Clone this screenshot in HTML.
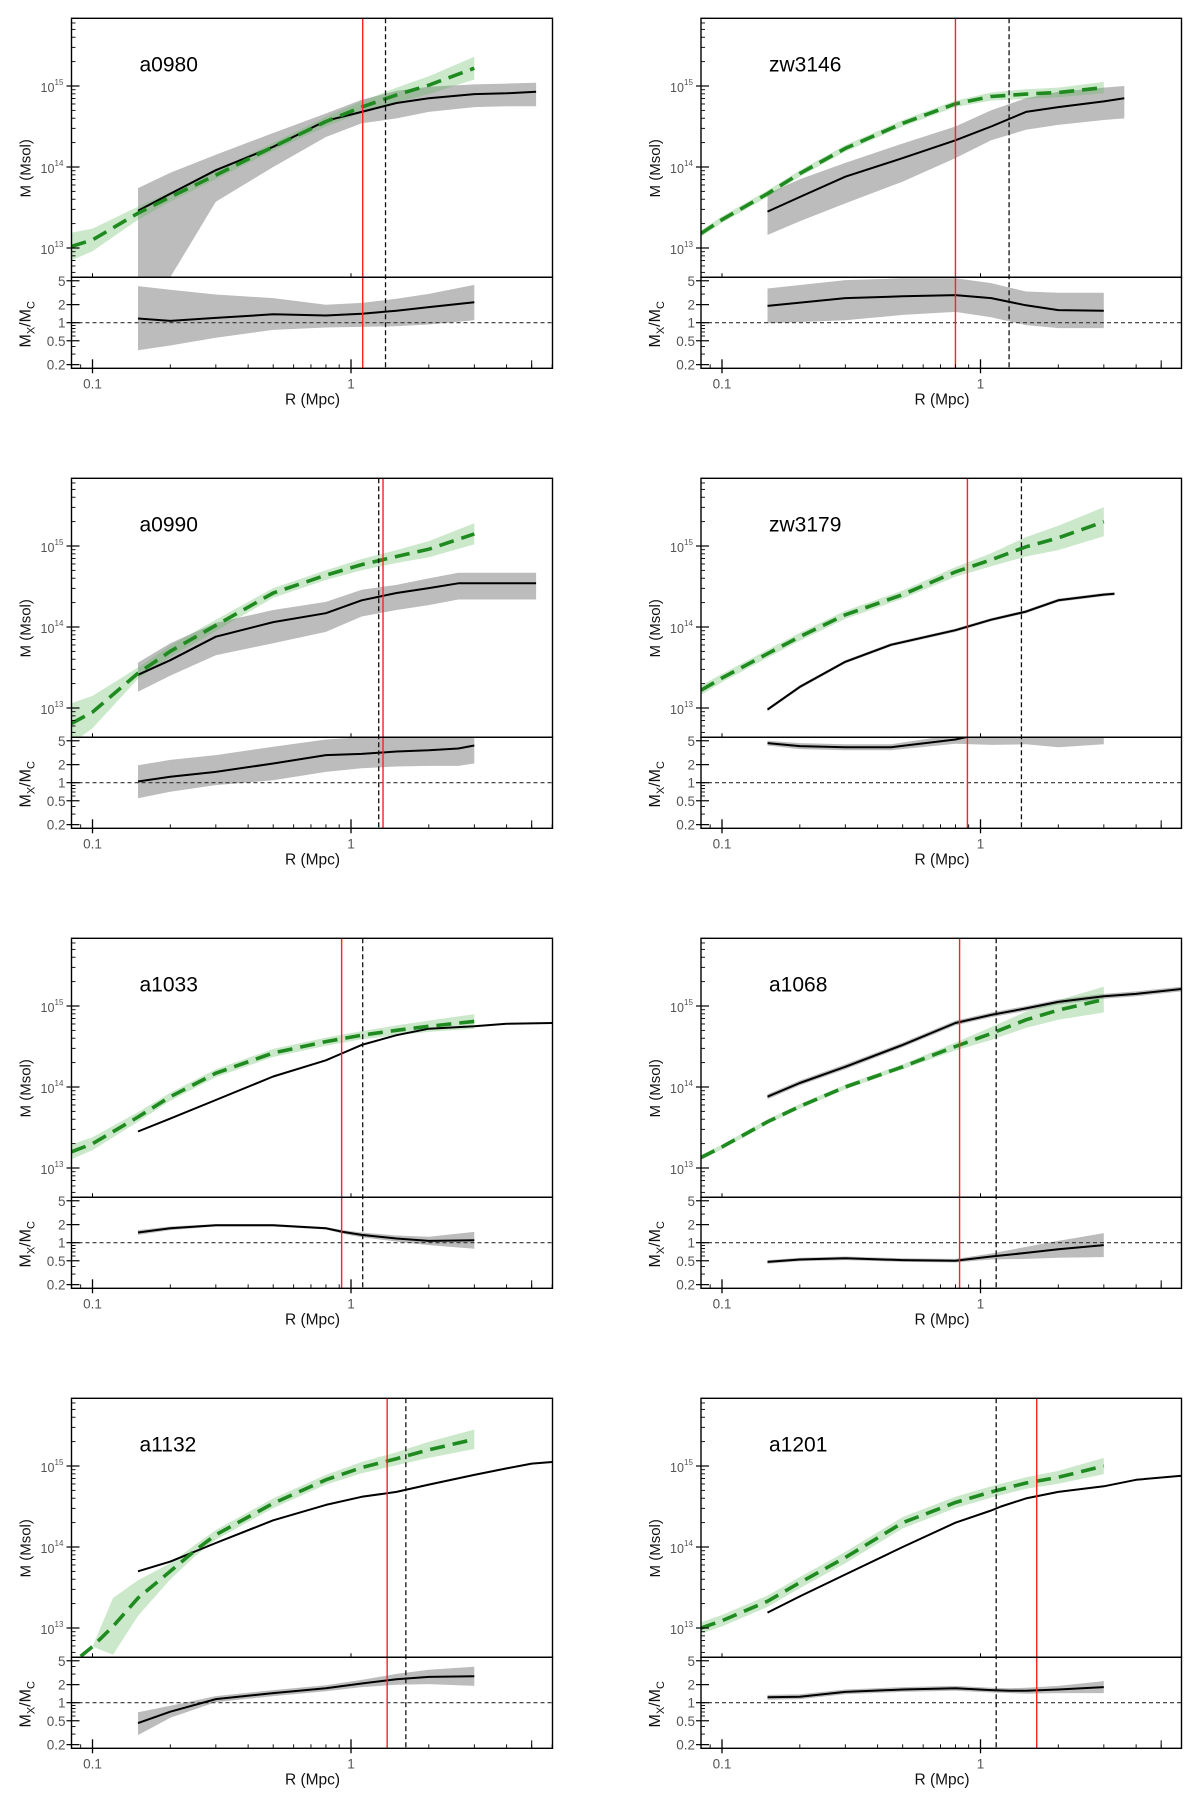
<!DOCTYPE html>
<html><head><meta charset="utf-8"><style>
html,body{margin:0;padding:0;background:#fff;}
svg{display:block;font-family:"Liberation Sans",sans-serif;}
</style></head><body>
<svg id="fig" width="1200" height="1809" viewBox="0 0 1200 1809" xmlns="http://www.w3.org/2000/svg"></svg>
<script>
// ---- data (log10 M in Msol; ratio as log10 Mx/Mc) ----
const names = ["a0980","zw3146","a0990","zw3179","a1033","a1068","a1132","a1201"];
const gR11 = [0.083,0.1,0.15,0.2,0.3,0.5,0.8,1.1,1.5,2,3];
// a0980
const p1_bR=[0.15,0.2,0.3,0.5,0.8,1.1,1.5,2,3,4,5.2];
const p1_bM=[13.46,13.67,13.96,14.25,14.57,14.68,14.79,14.85,14.90,14.91,14.93];
const p1_bHi=[13.74,13.93,14.15,14.42,14.66,14.83,14.94,14.99,15.02,15.03,15.04];
const p1_bLo=[12.0,12.64,13.57,14.0,14.37,14.54,14.6,14.68,14.74,14.75,14.75];
const p1_gR=gR11;
const p1_gM=[13.02,13.1,13.43,13.63,13.90,14.25,14.56,14.74,14.89,15.01,15.22];
const p1_gE=[0.17,0.14,0.08,0.06,0.05,0.05,0.06,0.07,0.09,0.11,0.14];
const p1_rR=[0.15,0.2,0.3,0.5,0.8,1.1,1.5,2,3];
const p1_rV=[0.07,0.03,0.08,0.14,0.12,0.15,0.2,0.26,0.34];
const p1_rHi=[0.61,0.55,0.47,0.41,0.30,0.33,0.40,0.48,0.63];
const p1_rLo=[-0.46,-0.38,-0.25,-0.12,-0.08,-0.07,-0.06,-0.03,0.04];
// zw3146
const p2_bR=[0.15,0.2,0.3,0.5,0.8,1.1,1.5,2,3,3.6];
const p2_bM=[13.45,13.63,13.88,14.11,14.33,14.5,14.68,14.74,14.81,14.85];
const p2_bHi=[13.67,13.85,14.05,14.29,14.5,14.7,14.85,14.93,14.98,15.0];
const p2_bLo=[13.16,13.33,13.55,13.82,14.11,14.33,14.46,14.52,14.58,14.6];
const p2_gR=gR11;
const p2_gM=[13.18,13.35,13.67,13.92,14.23,14.54,14.78,14.87,14.9,14.92,14.98];
const p2_gE=[0.04,0.04,0.04,0.04,0.04,0.04,0.04,0.05,0.06,0.06,0.07];
const p2_rR=[0.15,0.3,0.5,0.8,1.1,1.5,2,3];
const p2_rV=[0.28,0.41,0.44,0.46,0.41,0.29,0.21,0.2];
const p2_rHi=[0.57,0.71,0.74,0.74,0.66,0.52,0.5,0.5];
const p2_rLo=[-0.01,0.04,0.13,0.18,0.09,-0.04,-0.09,-0.09];
// a0990
const p3_bR=[0.15,0.2,0.3,0.5,0.8,1.1,1.5,2,2.6,5.2];
const p3_bM=[13.41,13.59,13.88,14.06,14.17,14.33,14.42,14.48,14.54,14.54];
const p3_bHi=[13.56,13.8,14.05,14.21,14.31,14.46,14.52,14.6,14.67,14.67];
const p3_bLo=[13.2,13.4,13.65,13.8,13.94,14.13,14.21,14.27,14.34,14.34];
const p3_gR=gR11;
const p3_gM=[12.81,12.95,13.43,13.7,14.02,14.42,14.64,14.77,14.87,14.96,15.15];
const p3_gE=[0.25,0.2,0.07,0.07,0.07,0.06,0.06,0.07,0.08,0.1,0.13];
const p3_rR=[0.15,0.2,0.3,0.5,0.8,1.1,1.5,2,2.6,3];
const p3_rV=[0.02,0.1,0.18,0.32,0.46,0.48,0.52,0.54,0.57,0.62];
const p3_rHi=[0.29,0.38,0.46,0.6,0.72,0.76,0.76,0.76,0.76,0.76];
const p3_rLo=[-0.26,-0.15,-0.04,0.04,0.18,0.24,0.27,0.28,0.28,0.32];
// zw3179
const p4_bR=[0.15,0.2,0.3,0.45,0.8,1.1,1.5,2,3,3.3];
const p4_bM=[12.98,13.26,13.57,13.78,13.96,14.09,14.19,14.33,14.4,14.41];
const p4_bHi=[13.0,13.28,13.59,13.8,13.98,14.11,14.21,14.35,14.42,14.43];
const p4_bLo=[12.96,13.24,13.55,13.76,13.94,14.07,14.17,14.31,14.38,14.39];
const p4_gR=gR11;
const p4_gM=[13.22,13.37,13.67,13.88,14.15,14.4,14.68,14.83,14.99,15.1,15.3];
const p4_gE=[0.06,0.05,0.05,0.05,0.05,0.05,0.06,0.08,0.12,0.15,0.18];
const p4_rR=[0.15,0.2,0.3,0.45,0.8,1.1,1.5,2,3];
const p4_rV=[0.66,0.61,0.59,0.59,0.72,0.85,0.9,0.85,0.9];
const p4_rHi=[0.7,0.66,0.64,0.64,0.8,1.0,1.0,1.0,1.0];
const p4_rLo=[0.62,0.56,0.54,0.54,0.65,0.63,0.64,0.59,0.64];
// a1033
const p5_bR=[0.15,0.2,0.3,0.5,0.8,0.93,1.1,1.5,2,3,4,6];
const p5_bM=[13.45,13.61,13.84,14.13,14.33,14.42,14.52,14.64,14.72,14.75,14.78,14.79];
const p5_bHi=null, p5_bLo=null;
const p5_gR=gR11;
const p5_gM=[13.2,13.3,13.63,13.88,14.17,14.42,14.56,14.64,14.7,14.75,14.81];
const p5_gE=[0.09,0.08,0.06,0.05,0.05,0.05,0.05,0.05,0.06,0.07,0.09];
const p5_rR=[0.15,0.2,0.3,0.5,0.8,0.93,1.1,1.5,2,3];
const p5_rV=[0.17,0.24,0.29,0.29,0.24,0.18,0.13,0.07,0.03,0.04];
const p5_rHi=[0.21,0.27,0.31,0.31,0.26,0.21,0.17,0.12,0.1,0.18];
const p5_rLo=[0.13,0.21,0.27,0.27,0.22,0.15,0.09,0.02,-0.04,-0.1];
// a1068
const p6_bR=[0.15,0.2,0.3,0.5,0.8,1.1,1.5,2,3,4,6];
const p6_bM=[13.88,14.05,14.25,14.52,14.79,14.89,14.97,15.05,15.12,15.15,15.21];
const p6_bHi=[13.91,14.08,14.28,14.55,14.82,14.92,15.0,15.08,15.15,15.18,15.24];
const p6_bLo=[13.85,14.02,14.22,14.49,14.76,14.86,14.94,15.02,15.09,15.12,15.18];
const p6_gR=gR11;
const p6_gM=[13.13,13.26,13.57,13.76,14.0,14.25,14.5,14.66,14.83,14.95,15.08];
const p6_gE=[0.03,0.03,0.03,0.03,0.03,0.03,0.05,0.08,0.1,0.12,0.16];
const p6_rR=[0.15,0.2,0.3,0.5,0.8,1.1,1.5,2,3];
const p6_rV=[-0.32,-0.28,-0.26,-0.29,-0.3,-0.23,-0.17,-0.11,-0.04];
const p6_rHi=[-0.29,-0.25,-0.23,-0.26,-0.27,-0.18,-0.07,0.03,0.16];
const p6_rLo=[-0.35,-0.31,-0.29,-0.32,-0.33,-0.28,-0.27,-0.25,-0.24];
// a1132
const p7_bR=[0.15,0.2,0.3,0.5,0.8,1.1,1.5,2,3,4,5,6];
const p7_bM=[13.7,13.82,14.05,14.33,14.52,14.62,14.68,14.77,14.89,14.97,15.03,15.05];
const p7_bHi=null, p7_bLo=null;
const p7_gR=[0.09,0.1,0.12,0.15,0.2,0.25,0.3,0.5,0.8,1.1,1.5,2,3];
const p7_gM=[12.65,12.77,13.02,13.37,13.7,13.96,14.15,14.54,14.83,14.98,15.09,15.2,15.33];
const p7_gE=[0,0,0.35,0.22,0.1,0.07,0.06,0.06,0.06,0.07,0.08,0.1,0.12];
const p7_rR=[0.15,0.2,0.3,0.5,0.8,1.1,1.5,2,3];
const p7_rV=[-0.34,-0.15,0.06,0.16,0.24,0.32,0.39,0.43,0.44];
const p7_rHi=[-0.16,-0.05,0.11,0.21,0.29,0.38,0.48,0.55,0.6];
const p7_rLo=[-0.54,-0.25,0.01,0.11,0.19,0.26,0.3,0.31,0.28];
// a1201
const p8_bR=[0.15,0.2,0.3,0.5,0.8,1.1,1.2,1.5,2,3,4,6];
const p8_bM=[13.19,13.39,13.66,14.0,14.3,14.45,14.5,14.6,14.68,14.75,14.83,14.88];
const p8_bHi=null, p8_bLo=null;
const p8_gR=gR11;
const p8_gM=[13.0,13.09,13.33,13.56,13.87,14.3,14.55,14.68,14.79,14.86,15.0];
const p8_gE=[0.07,0.07,0.07,0.07,0.07,0.07,0.07,0.07,0.07,0.08,0.1];
const p8_rR=[0.15,0.2,0.3,0.5,0.8,1.1,1.3,1.5,2,3];
const p8_rV=[0.09,0.1,0.18,0.22,0.24,0.21,0.2,0.2,0.22,0.26];
const p8_rHi=[0.13,0.14,0.22,0.26,0.28,0.25,0.24,0.25,0.28,0.36];
const p8_rLo=[0.05,0.06,0.14,0.18,0.2,0.17,0.16,0.15,0.16,0.16];
const redR=[1.11,0.8,1.33,0.89,0.92,0.83,1.38,1.65];
const dashR=[1.36,1.29,1.28,1.44,1.11,1.15,1.63,1.15];
const yExp=[13,14,15];
const ratioTicks=[0.2,0.5,1,2,5];
const ratioLabels=["0.2","0.5","1","2","5"];
const xTicks=[0.1,1];
const xLabels=["0.1","1"];

const panels=[
 [p1_bR,p1_bM,p1_bHi,p1_bLo,p1_gR,p1_gM,p1_gE,p1_rR,p1_rV,p1_rHi,p1_rLo],
 [p2_bR,p2_bM,p2_bHi,p2_bLo,p2_gR,p2_gM,p2_gE,p2_rR,p2_rV,p2_rHi,p2_rLo],
 [p3_bR,p3_bM,p3_bHi,p3_bLo,p3_gR,p3_gM,p3_gE,p3_rR,p3_rV,p3_rHi,p3_rLo],
 [p4_bR,p4_bM,p4_bHi,p4_bLo,p4_gR,p4_gM,p4_gE,p4_rR,p4_rV,p4_rHi,p4_rLo],
 [p5_bR,p5_bM,p5_bHi,p5_bLo,p5_gR,p5_gM,p5_gE,p5_rR,p5_rV,p5_rHi,p5_rLo],
 [p6_bR,p6_bM,p6_bHi,p6_bLo,p6_gR,p6_gM,p6_gE,p6_rR,p6_rV,p6_rHi,p6_rLo],
 [p7_bR,p7_bM,p7_bHi,p7_bLo,p7_gR,p7_gM,p7_gE,p7_rR,p7_rV,p7_rHi,p7_rLo],
 [p8_bR,p8_bM,p8_bHi,p8_bLo,p8_gR,p8_gM,p8_gE,p8_rR,p8_rV,p8_rHi,p8_rLo]
];

const NS="http://www.w3.org/2000/svg";
const svg=document.getElementById('fig');
function mk(tag,attrs,parent){const e=document.createElementNS(NS,tag);for(const k in attrs)e.setAttribute(k,attrs[k]);(parent||svg).appendChild(e);return e;}
function pts(xs,ys,fx,fy){return xs.map((x,i)=>fx(x).toFixed(1)+","+fy(ys[i]).toFixed(1)).join(" ");}
function bandPts(xs,hi,lo,fx,fy){const a=xs.map((x,i)=>fx(x).toFixed(1)+","+fy(hi[i]).toFixed(1));const b=xs.map((x,i)=>fx(x).toFixed(1)+","+fy(lo[i]).toFixed(1)).reverse();return a.concat(b).join(" ");}

panels.forEach((P,k)=>{
  const [bR,bM,bHi,bLo,gR,gM,gE,rR,rV,rHi,rLo]=P;
  const col=k%2,row=Math.floor(k/2);
  const X0=col?701:71.5, W=col?480.5:481;
  const T=18.3+460*row, H1=259, H2=91;
  const xs=R=>X0+21+(Math.log10(R)+1)*258.5;
  const ym=l=>T+67.7+(15-l)*81;
  const yr=l=>T+304.4-l*60;
  const g=mk('g',{});
  
  
  const cid='c'+k, cid2='d'+k;
  const defs=mk('defs',{},g);
  const c1=mk('clipPath',{id:cid},defs);mk('rect',{x:X0,y:T,width:W,height:H1},c1);
  const c2=mk('clipPath',{id:cid2},defs);mk('rect',{x:X0,y:T+H1,width:W,height:H2},c2);
  const gm=mk('g',{'clip-path':'url(#'+cid+')'},g);
  if(bHi){const b=mk('polygon',{points:bandPts(bR,bHi,bLo,xs,ym),fill:'#bcbcbc'},gm);
    }
  const gHi=gM.map((v,i)=>v+gE[i]),gLo=gM.map((v,i)=>v-gE[i]);
  const gb=mk('polygon',{points:bandPts(gR,gHi,gLo,xs,ym),fill:'#5cb85c','fill-opacity':'0.32'},gm);
  
  const bl=mk('polyline',{points:pts(bR,bM,xs,ym),fill:'none',stroke:'#000','stroke-width':'2','stroke-linejoin':'round'},gm);
  
  const gl=mk('polyline',{points:pts(gR,gM,xs,ym),fill:'none',stroke:'#1f8a1f','stroke-width':'3.6','stroke-dasharray':'15 8'},gm);
  
  const gr=mk('g',{'clip-path':'url(#'+cid2+')'},g);
  const rb=mk('polygon',{points:bandPts(rR,rHi,rLo,xs,yr),fill:'#bcbcbc'},gr);
  
  const one=mk('line',{x1:X0,x2:X0+W,y1:yr(0),y2:yr(0),stroke:'#333','stroke-width':'1.2','stroke-dasharray':'4 3'},gr);
  
  const rl=mk('polyline',{points:pts(rR,rV,xs,yr),fill:'none',stroke:'#000','stroke-width':'2'},gr);
  
  const dv=mk('line',{x1:xs(dashR[k]),x2:xs(dashR[k]),y1:T,y2:T+H1+H2,stroke:'#111','stroke-width':'1.3','stroke-dasharray':'5 3'},g);
  
  const rv=mk('line',{x1:xs(redR[k]),x2:xs(redR[k]),y1:T,y2:T+H1+H2,stroke:'#ff2020','stroke-width':'1.4'},g);
  
  const f1=mk('rect',{x:X0,y:T,width:W,height:H1,fill:'none',stroke:'#000','stroke-width':'1.4'},g);
  
  const f2=mk('rect',{x:X0,y:T+H1,width:W,height:H2,fill:'none',stroke:'#000','stroke-width':'1.4'},g);
  
  for(let e=12;e<=15;e++){
    for(let m=1;m<10;m++){
      const l=e+Math.log10(m); const y=ym(l);
      if(y<T||y>T+H1)continue;
      if(m===1){mk('line',{x1:X0-5,x2:X0+8,y1:y,y2:y,stroke:'#000','stroke-width':'1.2'},g);}
      else mk('line',{x1:X0,x2:X0+4,y1:y,y2:y,stroke:'#000','stroke-width':'0.9'},g);
    }
  }
  yExp.forEach(e=>{
    const y=ym(e);
    const t=mk('text',{x:X0-31,y:y+6,'font-size':'12.5',fill:'#555','text-anchor':'start'},g);
    t.textContent='10';
    
    const s=mk('text',{x:X0-17,y:y-1,'font-size':'8',fill:'#555'},g);
    s.textContent=String(e);
    
  });
  const minorR=[0.3,0.4,0.6,0.7,0.8,0.9,3,4];
  minorR.forEach(v=>{const y=yr(Math.log10(v));mk('line',{x1:X0,x2:X0+4,y1:y,y2:y,stroke:'#000','stroke-width':'0.9'},g);});
  ratioTicks.forEach((v,i)=>{
    const y=yr(Math.log10(v));
    mk('line',{x1:X0-5,x2:X0+8,y1:y,y2:y,stroke:'#000','stroke-width':'1.2'},g);
    const t=mk('text',{x:X0-6,y:y+5,'font-size':'13.5',fill:'#555','text-anchor':'end'},g);
    t.textContent=ratioLabels[i];
    
  });
  const yb=T+H1+H2, ymid=T+H1;
  [0.09,0.2,0.3,0.4,0.5,0.6,0.7,0.8,0.9,2,3,4,5,6].forEach(v=>{const x=xs(v);if(x<X0||x>X0+W)return;
    mk('line',{x1:x,x2:x,y1:yb,y2:yb-4,stroke:'#000','stroke-width':'0.9'},g);});
  xTicks.forEach((v,i)=>{const x=xs(v);
    mk('line',{x1:x,x2:x,y1:yb+5,y2:yb-9,stroke:'#000','stroke-width':'1.3'},g);
    mk('line',{x1:x,x2:x,y1:ymid,y2:ymid-4,stroke:'#000','stroke-width':'1'},g);
    const t=mk('text',{x:x,y:yb+20,'font-size':'13.5',fill:'#555','text-anchor':'middle'},g);
    t.textContent=xLabels[i];
    
  });
  [5].forEach(v=>{const x=xs(v);mk('line',{x1:x,x2:x,y1:yb,y2:yb-8,stroke:'#000','stroke-width':'1'},g);});
  const nm=mk('text',{x:X0+68,y:T+53,'font-size':'21',fill:'#000'},g);
  nm.textContent=names[k];
  
  const xt=mk('text',{x:X0+241,y:yb+36,'font-size':'15.5',fill:'#111','text-anchor':'middle'},g);
  xt.textContent='R  (Mpc)';
  
  const yt=mk('text',{x:0,y:0,'font-size':'15',fill:'#111','text-anchor':'middle',transform:'translate('+(X0-41)+','+(T+150)+') rotate(-90)'},g);
  yt.textContent='M  (Msol)';
  
  const rt=mk('text',{x:0,y:0,'font-size':'16',fill:'#111','text-anchor':'middle',transform:'translate('+(X0-41)+','+(T+H1+47)+') rotate(-90)'},g);
  const a=mk('tspan',{},rt);a.textContent='M';
  const b=mk('tspan',{'font-size':'11',dy:'4'},rt);b.textContent='X';
  const c=mk('tspan',{dy:'-4'},rt);c.textContent='/M';
  const d=mk('tspan',{'font-size':'11',dy:'4'},rt);d.textContent='C';
  
});
</script>
</body></html>
